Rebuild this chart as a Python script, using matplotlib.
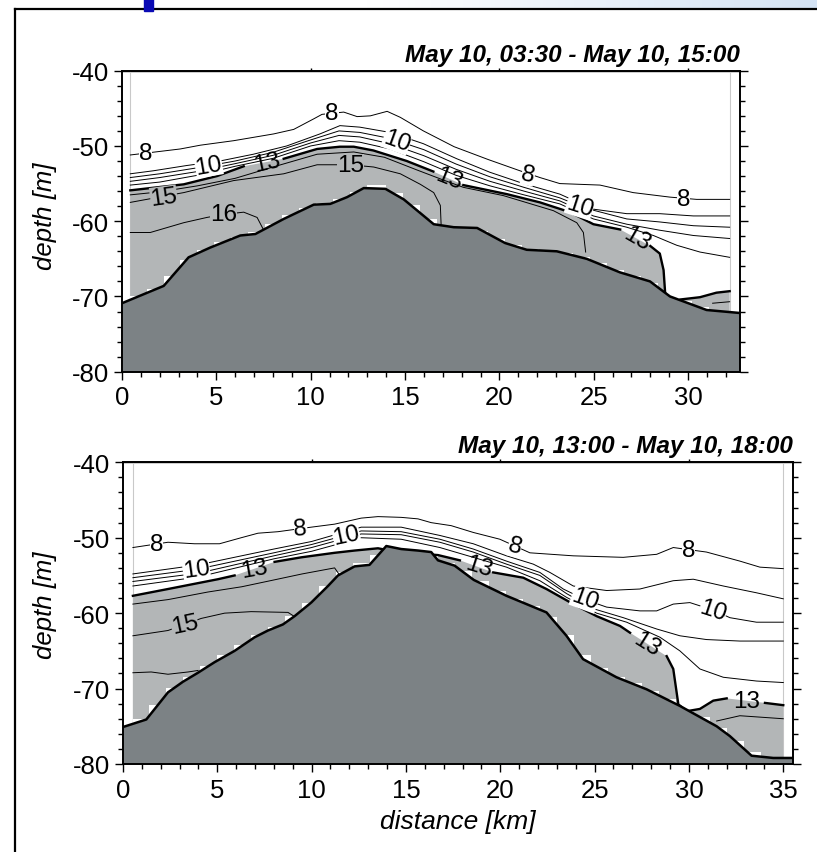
import numpy as np
import matplotlib
matplotlib.use('Agg')
import matplotlib.pyplot as plt
import matplotlib.ticker as mticker
from matplotlib.colors import LinearSegmentedColormap
from matplotlib.lines import Line2D
from matplotlib.patches import Rectangle

plt.rcParams['font.family'] = ['Liberation Sans', 'DejaVu Sans']
plt.rcParams['axes.unicode_minus'] = False

nan = np.nan
BATHY = '#7c8285'
WARM = '#b3b6b7'
EDGE = '#c9c9c9'

# ---------------- upper section ----------------
top_title = 'May 10, 03:30 - May 10, 15:00'
top_xmax = 32.75
top_edges = [0.45, 32.2]

top_bathy_x = [0.0, 2.21, 3.53, 4.68, 6.27, 7.07, 8.57, 10.16, 11.04, 11.93, 12.81, 13.96, 14.93,
               16.52, 17.58, 18.82, 20.3, 21.45, 23.04, 24.63, 26.39, 27.98, 29.04, 30.98, 32.75]
top_bathy_d = [-70.9, -68.6, -64.8, -63.5, -61.9, -61.7, -59.7, -57.8, -57.7, -56.8, -55.6, -55.7, -57.1,
               -60.4, -60.8, -60.9, -62.9, -63.8, -64.0, -65.0, -66.8, -68.0, -70.0, -71.8, -72.2]

# lower limit of the gridded data (step edges)
top_stair_x = [0.45, 1.3, 2.2, 3.1, 4.0, 4.9, 5.8, 6.7, 7.6, 8.5, 9.4, 10.3, 11.2, 12.1, 13.0, 14.0, 14.9,
               15.8, 16.7, 17.6, 18.5, 19.4, 20.3, 21.2, 22.1, 23.0, 23.9, 24.8, 25.7, 26.6, 27.5, 28.4,
               29.3, 30.2, 31.1, 32.2]
top_stair_d = [-69.9, -69.0, -67.3, -65.1, -63.8, -62.8, -62.1, -61.4, -60.4, -59.2, -58.2, -57.6, -57.0,
               -56.1, -55.2, -56.3, -57.9, -59.7, -60.6, -60.8, -61.3, -62.3, -63.2, -63.7, -63.9, -64.2,
               -64.8, -65.6, -66.5, -67.3, -68.2, -69.5, -70.6, -71.4, -71.9, -71.9]

top_t8_x = [0.44, 3.09, 4.15, 5.92, 8.04, 9.10, 10.16, 10.6, 11.75, 12.46, 13.16, 14.05, 14.75, 15.97,
            17.6, 19.4, 21.09, 22.15, 23.2, 25.33, 27.09, 29.04, 30.45, 32.2]
top_t8_d = [-51.2, -50.4, -49.9, -49.3, -48.4, -47.8, -46.4, -45.8, -45.5, -46.1, -46.0, -45.4, -46.2, -48.0,
            -50.1, -51.8, -53.3, -54.2, -55.0, -55.2, -56.2, -56.8, -57.1, -57.1]
top_t9_x = [0.44, 1.66, 3.43, 5.19, 6.96, 8.73, 10.49, 11.55, 12.6, 14.2, 15.97, 17.74, 19.5, 21.27,
            23.2, 24.98, 26.75, 28.5, 30.28, 32.2]
top_t9_d = [-53.7, -53.3, -52.6, -52.0, -51.1, -50.0, -48.4, -47.3, -47.5, -48.2, -49.7, -51.7, -53.5, -55.0,
            -56.4, -58.4, -59.0, -59.0, -59.3, -59.3]
top_t10_x = [0.44, 2, 4, 6, 8, 10, 11.5, 12.6, 14.2, 16, 17.7, 19.5, 21.3, 23.2, 24.3, 25.07, 26.75,
             28.5, 30.28, 32.2]
top_t10_d = [-54.2, -53.7, -52.9, -52.0, -50.85, -49.2, -48.0, -48.2, -49.0, -50.5, -52.4, -54.1, -55.5,
             -56.9, -58.0, -58.6, -59.7, -60.1, -60.6, -60.8]
top_t11_x = [0.44, 2, 4, 6, 8, 10, 11.5, 12.6, 14.2, 16, 17.7, 19.5, 21.3, 23.2, 24.98, 26.75, 28.5,
             30.28, 32.2]
top_t11_d = [-54.7, -54.2, -53.4, -52.35, -51.25, -49.6, -48.6, -48.8, -49.7, -51.3, -53.1, -54.7, -56.0,
             -57.3, -59.3, -60.4, -61.2, -61.9, -62.3]
top_t12_x = [0.44, 2, 4, 6, 8, 10, 11.5, 12.6, 14.2, 16, 17.7, 19.5, 21.3, 23.2, 24.98, 26.75, 28.16,
             29.4, 30.63, 32.2]
top_t12_d = [-55.2, -54.8, -53.9, -52.7, -51.65, -50.0, -49.3, -49.5, -50.4, -52.1, -53.9, -55.3, -56.5,
             -57.7, -59.7, -60.8, -61.9, -63.2, -64.1, -64.8]
top_t13_x = [0.44, 3.27, 5.04, 6.45, nan, 8.57, 10.34, 11.55, 12.28, 13.32, 15.09, 16.5, nan, 18.09,
             20.39, 22.15, 23.74, 24.98, 26.4, nan, 28.0, 28.5, 28.7, 28.78]
top_t13_d = [-55.9, -55.1, -54.0, -52.7, nan, -51.7, -50.4, -50.1, -50.1, -50.6, -52.0, -53.4, nan, -55.2,
             -56.4, -57.5, -58.8, -60.4, -61.1, nan, -63.3, -64.3, -66.5, -69.4]
top_t13b_x = [29.6, 30.63, 31.5, 32.2]
top_t13b_d = [-70.4, -70.1, -69.5, -69.3]
top_t14_x = [0.44, 2, 4, 6, 8, 10.34, 12.28, 13.9, 15.64, 17.0, 18.09, 20.21, 22.86, 24.1, 24.45, 24.57]
top_t14_d = [-56.5, -56.1, -55.3, -54.3, -52.8, -51.1, -50.8, -51.5, -53.2, -54.5, -55.5, -56.6, -58.6,
             -60.2, -61.5, -64.1]
top_t14b_x = [31.3, 32.2]
top_t14b_d = [-70.9, -70.7]
top_t15_x = [0.44, 3.27, 5.92, 8.57, 10.34, 12.1, 13.34, 14.75, 15.81, 16.52, 16.87, 16.91]
top_t15_d = [-57.5, -56.2, -54.6, -53.7, -52.5, -52.5, -52.8, -53.7, -55.1, -56.2, -57.9, -60.4]
top_t16_x = [0.44, 1.5, 3.27, 4.5, 5.39, 6.45, 7.16, 7.47]
top_t16_d = [-61.5, -61.5, -60.2, -59.5, -59.1, -58.8, -59.5, -61.0]

top_lab_txt = ['8', '8', '8', '8', '10', '10', '10', '13', '13', '13', '15', '15', '16']
top_lab_x = [1.24, 11.13, 21.53, 29.75, 4.59, 14.56, 24.27, 7.69, 17.3, 27.28, 2.21, 12.1, 5.39]
top_lab_d = [-51.0, -45.6, -53.8, -57.0, -52.6, -49.3, -58.0, -52.2, -54.3, -62.3, -56.8, -52.5, -59.1]
top_lab_rot = [0, 0, -12, 0, 10, -20, -18, 12, -22, -30, 8, 0, 0]

# ---------------- lower section ----------------
bot_title = 'May 10, 13:00 - May 10, 18:00'
bot_xmax = 35.5
bot_edges = [0.53, 35.0]

bot_bathy_x = [0.0, 1.24, 2.39, 3.18, 3.98, 4.86, 5.92, 6.98, 7.69, 8.48, 9.1, 9.98, 10.87, 11.4, 12.28,
               13.07, 13.96, 14.75, 15.64, 16.34, 16.7, 17.58, 18.6, 20.33, 22.45, 23.51, 24.39, 26.16,
               27.76, 29.52, 31.47, 32.17, 33.32, 34.47, 35.5]
bot_bathy_d = [-75.1, -74.1, -70.5, -69.1, -67.9, -66.5, -65.0, -63.2, -62.3, -61.5, -60.4, -58.6, -56.4,
               -55.0, -53.8, -53.6, -51.1, -51.5, -51.7, -51.9, -53.0, -53.7, -55.6, -57.7, -59.9, -63.0,
               -66.1, -68.5, -70.1, -72.3, -75.0, -76.3, -78.9, -79.2, -79.2]

bot_stair_x = [0.53, 1.4, 2.3, 3.2, 4.1, 5.0, 5.9, 6.8, 7.7, 8.6, 9.5, 10.4, 11.3, 12.2, 13.1, 14.0, 14.9,
               15.8, 16.7, 17.6, 18.5, 19.4, 20.3, 21.2, 22.1, 23.0, 23.9, 24.8, 25.7, 26.6, 27.5, 28.4,
               29.3, 30.2, 31.1, 32.0, 32.9, 33.8, 35.0]
bot_stair_d = [-74.1, -72.2, -69.9, -68.4, -67.0, -65.6, -64.2, -62.9, -61.8, -60.4, -58.6, -56.4, -54.6,
               -53.3, -52.3, -51.2, -51.5, -52.3, -53.3, -54.4, -55.8, -57.1, -58.1, -59.0, -60.5, -62.9,
               -65.5, -67.3, -68.4, -69.3, -70.3, -71.4, -72.6, -73.8, -75.2, -76.9, -78.4, -79.1, -79.1]

bot_t8_x = [0.53, 2.39, 3.8, 5.12, 6.27, 7.16, 8.22, 9.98, 11.22, 12.63, 13.52, 14.75, 15.64, 16.34,
            17.4, 18.57, 19.98, 21.57, 23.87, 26.52, 28.29, 29.17, 30.93, 32.7, 33.76, 35.0]
bot_t8_d = [-51.3, -50.6, -50.8, -50.8, -50.0, -49.4, -49.2, -48.6, -48.2, -47.4, -47.2, -47.3, -47.5,
            -48.0, -48.4, -49.3, -50.2, -52.0, -52.4, -52.6, -52.2, -51.3, -51.9, -53.1, -53.9, -54.1]
bot_t9_x = [0.53, 4.0, 8.0, 10.0, 12.63, 14.75, 16.8, 18.57, 20.33, 21.75, 22.63, 23.87, 25.64, 27.4,
            29.17, 30.23, 31.82, 33.58, 35.0]
bot_t9_d = [-54.8, -53.6, -51.5, -50.5, -48.6, -48.6, -49.7, -50.8, -52.4, -53.5, -54.6, -56.4, -57.0,
            -56.8, -55.7, -55.5, -56.4, -57.3, -58.1]
bot_t10_x = [0.53, 3.89, 8.0, 10.0, 12.63, 14.75, 16.8, 18.57, 20.33, 22.1, 23.34, 24.49, 25.64, 27.4,
             28.29, 29.17, 30.05, 31.29, 32.17, 33.58, 35.0]
bot_t10_d = [-55.3, -54.2, -52.0, -50.9, -49.1, -49.2, -50.2, -51.5, -53.1, -54.6, -56.8, -58.2, -59.2,
             -59.7, -59.7, -58.8, -58.6, -59.6, -60.6, -61.2, -61.2]
bot_t11_x = [0.53, 4.0, 8.0, 10.0, 12.63, 14.75, 16.8, 18.57, 20.33, 22.1, 23.51, 24.92, 26.52, 28.29,
             29.52, 30.93, 32.7, 35.0]
bot_t11_d = [-55.8, -54.7, -52.4, -51.3, -49.5, -49.6, -50.6, -51.9, -53.5, -55.0, -57.4, -59.4, -60.6,
             -62.1, -63.0, -63.5, -63.7, -63.7]
bot_t12_x = [0.53, 4.0, 8.0, 10.0, 12.63, 14.75, 16.8, 18.57, 20.33, 22.1, 23.51, 25.11, 26.7, 28.47,
             29.52, 30.58, 31.82, 33.58, 35.0]
bot_t12_d = [-56.4, -55.2, -52.8, -51.8, -50.0, -50.2, -51.3, -52.6, -53.9, -55.7, -57.9, -60.0, -61.2,
             -63.2, -65.0, -67.4, -68.5, -69.0, -69.2]
bot_t13_x = [0.53, 2.39, 5.04, 5.92, nan, 8.04, 9.45, 11.22, 12.28, 13.52, 14.75, 15.64, 16.7, 17.86, nan,
             19.63, 21.22, 22.45, 23.87, 25.11, 26.35, 26.88, nan, 28.82, 29.17, 29.44, 29.88, 30.58,
             31.29, 32.0, nan, 34.03, 35.0]
bot_t13_d = [-57.7, -56.8, -55.5, -55.0, nan, -53.2, -52.6, -52.0, -51.7, -51.4, -52.0, -52.1, -52.3, -53.0,
             nan, -54.6, -55.3, -56.8, -58.8, -60.4, -61.7, -62.6, nan, -65.7, -67.4, -72.1, -73.0, -72.7,
             -71.6, -71.3, nan, -71.9, -72.2]
bot_t14_x = [0.53, 2.4, 4.5, 6.3, 8.0, 9.5, 11.22, 11.5]
bot_t14_d = [-58.8, -58.2, -57.2, -56.5, -55.6, -54.8, -54.0, -55.0]
bot_t14b_x = [31.47, 32.7, 35.0]
bot_t14b_d = [-74.3, -73.6, -74.0]
bot_t15_x = [0.53, 2.39, 3.27, 4.15, 5.39, 6.8, 8.75, 9.19]
bot_t15_d = [-63.0, -62.3, -61.5, -60.7, -60.0, -59.8, -59.9, -60.6]
bot_t16_x = [0.53, 1.5, 2.39, 3.45, 3.98]
bot_t16_d = [-67.9, -67.8, -68.1, -67.8, -67.6]

bot_lab_txt = ['8', '8', '8', '8', '10', '10', '10', '10', '13', '13', '13', '13', '15']
bot_lab_x = [1.77, 9.42, 20.78, 29.97, 3.89, 11.84, 24.49, 31.29, 6.98, 18.84, 27.76, 33.06, 3.27]
bot_lab_d = [-50.8, -48.8, -51.1, -51.6, -54.2, -49.7, -58.1, -59.6, -54.1, -53.8, -64.1, -71.6, -61.5]
bot_lab_rot = [0, 5, -15, 0, 8, 12, -20, -18, 10, -18, -32, 0, 12]


def frame(ax, xmax, title):
    ax.set_xlim(0, xmax)
    ax.set_ylim(-80, -40)
    ax.xaxis.set_major_locator(mticker.MultipleLocator(5))
    ax.xaxis.set_minor_locator(mticker.MultipleLocator(1))
    ax.yaxis.set_major_locator(mticker.MultipleLocator(10))
    ax.yaxis.set_minor_locator(mticker.MultipleLocator(2))
    ax.tick_params(which='both', direction='out', right=True, top=False, width=1.0, labelsize=18.5)
    ax.tick_params(which='major', length=5.8)
    ax.tick_params(which='minor', length=3.6)
    ax.tick_params(axis='x', pad=4)
    ax.tick_params(axis='y', pad=3.5)
    for s in ax.spines.values():
        s.set_linewidth(1.4)
        s.set_zorder(6)
    sec = ax.secondary_xaxis('top')
    sec.set_xticks([10, 20, 30])
    sec.set_xticklabels([])
    sec.tick_params(direction='out', length=2.5, width=1.0)
    sec.spines['top'].set_linewidth(1.0)
    ax.set_ylabel('depth [m]', fontsize=18.5, fontstyle='italic', va='center')
    ax.text(1.0, 1.016, title, transform=ax.transAxes, ha='right', va='bottom',
            fontsize=17.5, fontweight='bold', fontstyle='italic')


def warm_fill(ax, x, d):
    x = np.asarray(x, float)
    d = np.asarray(d, float)
    ok = ~np.isnan(x)
    x, d = x[ok], d[ok]
    ax.fill(np.r_[x, x[-1], x[0]], np.r_[d, -80, -80], color=WARM, lw=0, zorder=1)


def labels(ax, txt, xs, ds, rots):
    for s, x, d, r in zip(txt, xs, ds, rots):
        kw = {}
        if s in ('8', '10'):
            kw['bbox'] = dict(boxstyle='square,pad=0.0', fc='white', ec='none')
        elif s in ('15', '16'):
            kw['bbox'] = dict(boxstyle='square,pad=0.0', fc=WARM, ec='none')
        ax.text(x, d, s, fontsize=17.5, rotation=r, rotation_mode='anchor',
                ha='center', va='center', zorder=5, **kw)


fig = plt.figure(figsize=(8.17, 8.53), dpi=100)

# slide strip above the frame
strip = fig.add_axes([0, 1 - 10 / 853, 1, 10 / 853], zorder=-1)
cmap = LinearSegmentedColormap.from_list('strip', [(0, 'white'), (0.45, 'white'), (1, '#d4e3f4')])
strip.imshow(np.linspace(0, 1, 256)[None, :], aspect='auto', cmap=cmap, extent=[0, 1, 0, 1])
strip.axis('off')
fig.add_artist(Line2D([15 / 817, 15 / 817], [0, 1 - 10 / 853], color='black', lw=1.6))
fig.add_artist(Line2D([15 / 817, 1], [1 - 10 / 853, 1 - 10 / 853], color='black', lw=1.6))
fig.add_artist(Rectangle((144 / 817, 1 - 12 / 853), 9 / 817, 12 / 853, color='#0a0ab4', zorder=10))

# upper panel
ax1 = fig.add_axes([122 / 817, 1 - 372.7 / 853, 618 / 817, 301 / 853])
frame(ax1, top_xmax, top_title)
ax1.yaxis.set_label_coords(-0.1246, 0.52)
for e in top_edges:
    ax1.axvline(e, color=EDGE, lw=0.8, zorder=0.5)
warm_fill(ax1, top_t13_x, top_t13_d)
warm_fill(ax1, top_t13b_x, top_t13b_d)
ax1.fill_between(top_stair_x, top_stair_d, -80, step='post', color='white', lw=0, zorder=1.5)
for x, d in [(top_t8_x, top_t8_d), (top_t9_x, top_t9_d), (top_t10_x, top_t10_d),
             (top_t11_x, top_t11_d), (top_t12_x, top_t12_d), (top_t14_x, top_t14_d),
             (top_t14b_x, top_t14b_d), (top_t15_x, top_t15_d), (top_t16_x, top_t16_d)]:
    ax1.plot(x, d, color='black', lw=0.7, zorder=3)
ax1.plot(top_t13_x, top_t13_d, color='black', lw=1.7, zorder=3)
ax1.plot(top_t13b_x, top_t13b_d, color='black', lw=1.7, zorder=3)
ax1.fill_between(top_bathy_x, top_bathy_d, -80, color=BATHY, lw=0, zorder=4)
ax1.plot(top_bathy_x, top_bathy_d, color='black', lw=1.8, zorder=4.2)
labels(ax1, top_lab_txt, top_lab_x, top_lab_d, top_lab_rot)

# lower panel
ax2 = fig.add_axes([122.9 / 817, 1 - 765 / 853, 669.8 / 817, 301.7 / 853])
frame(ax2, bot_xmax, bot_title)
ax2.yaxis.set_label_coords(-0.1163, 0.53)
ax2.set_xlabel('distance [km]', fontsize=19, fontstyle='italic', va='center')
ax2.xaxis.set_label_coords(0.5, -0.189)
for e in bot_edges:
    ax2.axvline(e, color=EDGE, lw=0.8, zorder=0.5)
warm_fill(ax2, bot_t13_x, bot_t13_d)
ax2.fill_between(bot_stair_x, bot_stair_d, -80, step='post', color='white', lw=0, zorder=1.5)
for x, d in [(bot_t8_x, bot_t8_d), (bot_t9_x, bot_t9_d), (bot_t10_x, bot_t10_d),
             (bot_t11_x, bot_t11_d), (bot_t12_x, bot_t12_d), (bot_t14_x, bot_t14_d),
             (bot_t14b_x, bot_t14b_d), (bot_t15_x, bot_t15_d), (bot_t16_x, bot_t16_d)]:
    ax2.plot(x, d, color='black', lw=0.7, zorder=3)
ax2.plot(bot_t13_x, bot_t13_d, color='black', lw=1.7, zorder=3)
ax2.fill_between(bot_bathy_x, bot_bathy_d, -80, color=BATHY, lw=0, zorder=4)
ax2.plot(bot_bathy_x, bot_bathy_d, color='black', lw=1.8, zorder=4.2)
labels(ax2, bot_lab_txt, bot_lab_x, bot_lab_d, bot_lab_rot)

fig.savefig('out.png', dpi=100, facecolor='white')
